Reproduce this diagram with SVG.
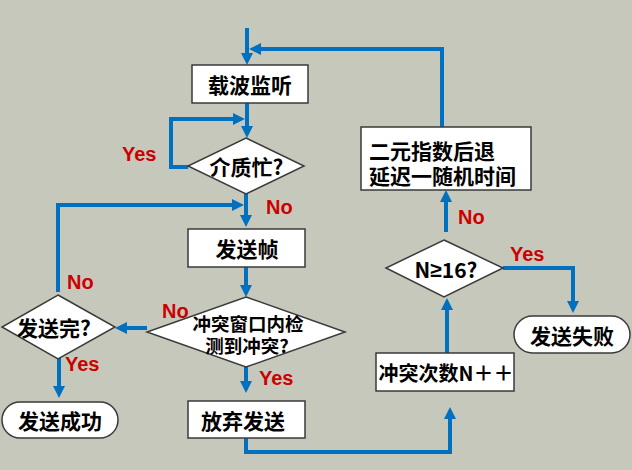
<svg xmlns="http://www.w3.org/2000/svg" width="632" height="470" viewBox="0 0 632 470">
<defs>
<marker id="ah" markerUnits="userSpaceOnUse" markerWidth="12" markerHeight="12" refX="8" refY="6" orient="auto">
<path d="M0,0 L12,6 L0,12 z" fill="#0070c0"/>
</marker>
<style>
.bg{fill:#c7c8bc}
.box{fill:#ffffff;stroke:#3a3a3a;stroke-width:1.5}
.t{font-family:"Noto Sans CJK SC","Liberation Sans",sans-serif;font-weight:bold;font-size:21px;fill:#000;text-anchor:middle;dominant-baseline:central}
.ts{font-size:18.5px}
.lat{font-family:"Liberation Sans",Arial,sans-serif}
.l{font-family:"Liberation Sans",Arial,sans-serif;font-weight:bold;font-size:20px;fill:#cc0000}
.c{fill:none;stroke:#0070c0;stroke-width:4;marker-end:url(#ah)}
</style>
</defs>
<rect class="bg" x="0" y="0" width="632" height="470"/>
<g id="connectors">
<path class="c" d="M247,28 V61"/>
<path class="c" d="M442,127 V49 H253"/>
<path class="c" d="M247,103 V134"/>
<path class="c" d="M188,167 H171 V119 H241"/>
<path class="c" d="M246,194 V223"/>
<path class="c" d="M58,292 V205 H240"/>
<path class="c" d="M246,267 V293"/>
<path class="c" d="M147,328 H119"/>
<path class="c" d="M59,358 V394"/>
<path class="c" d="M246,367 V389"/>
<path class="c" d="M246,438 V452 H450 V411"/>
<path class="c" d="M447,353 V302"/>
<path class="c" d="M446,232 V194"/>
<path class="c" d="M503,268 H573 V309"/>
</g>
<g id="n1"><rect class="box" x="192" y="65" width="116" height="38"/><text class="t" x="250" y="84">载波监听</text></g>
<g id="n2"><polygon class="box" points="246,138 304,166 246,194 188,166"/><text class="t" x="246.5" y="166">介质忙?</text></g>
<g id="n3"><rect class="box" x="188" y="229" width="117" height="38"/><text class="t" x="247" y="248">发送帧</text></g>
<g id="n4"><polygon class="box" points="246,297 345,332 246,367 147,332"/><text class="t ts" x="248" y="323">冲突窗口内检</text><text class="t ts" x="247" y="345">测到冲突?</text></g>
<g id="n5"><polygon class="box" points="58,295 115,327 58,359 2,327"/><text class="t" x="54" y="327">发送完?</text></g>
<g id="n6"><rect class="box" x="2" y="402" width="116" height="36" rx="18" ry="18"/><text class="t" x="60" y="420">发送成功</text></g>
<g id="n7"><rect class="box" x="188" y="401" width="117" height="37"/><text class="t" x="243" y="420">放弃发送</text></g>
<g id="n8"><rect class="box" x="376" y="353" width="138" height="38"/><text class="t" x="446" y="372" style="font-size:20px">冲突次数N＋＋</text></g>
<g id="n9"><polygon class="box" points="444,240 503,268 444,297 386,268"/><text class="t" x="446" y="269">N<tspan class="lat">≥</tspan>16?</text></g>
<g id="n10"><rect class="box" x="361" y="127" width="170" height="63"/><text class="t" x="369" y="150" style="text-anchor:start">二元指数后退</text><text class="t" x="369" y="175" style="text-anchor:start">延迟一随机时间</text></g>
<g id="n11"><rect class="box" x="514" y="316" width="116" height="37" rx="18.5" ry="18.5"/><text class="t" x="572" y="335">发送失败</text></g>
<g id="labels">
<text class="l" x="122" y="161">Yes</text>
<text class="l" x="266" y="214">No</text>
<text class="l" x="67" y="289">No</text>
<text class="l" x="162" y="318">No</text>
<text class="l" x="65" y="371">Yes</text>
<text class="l" x="259" y="385">Yes</text>
<text class="l" x="458" y="224">No</text>
<text class="l" x="510" y="261">Yes</text>
</g>
</svg>
